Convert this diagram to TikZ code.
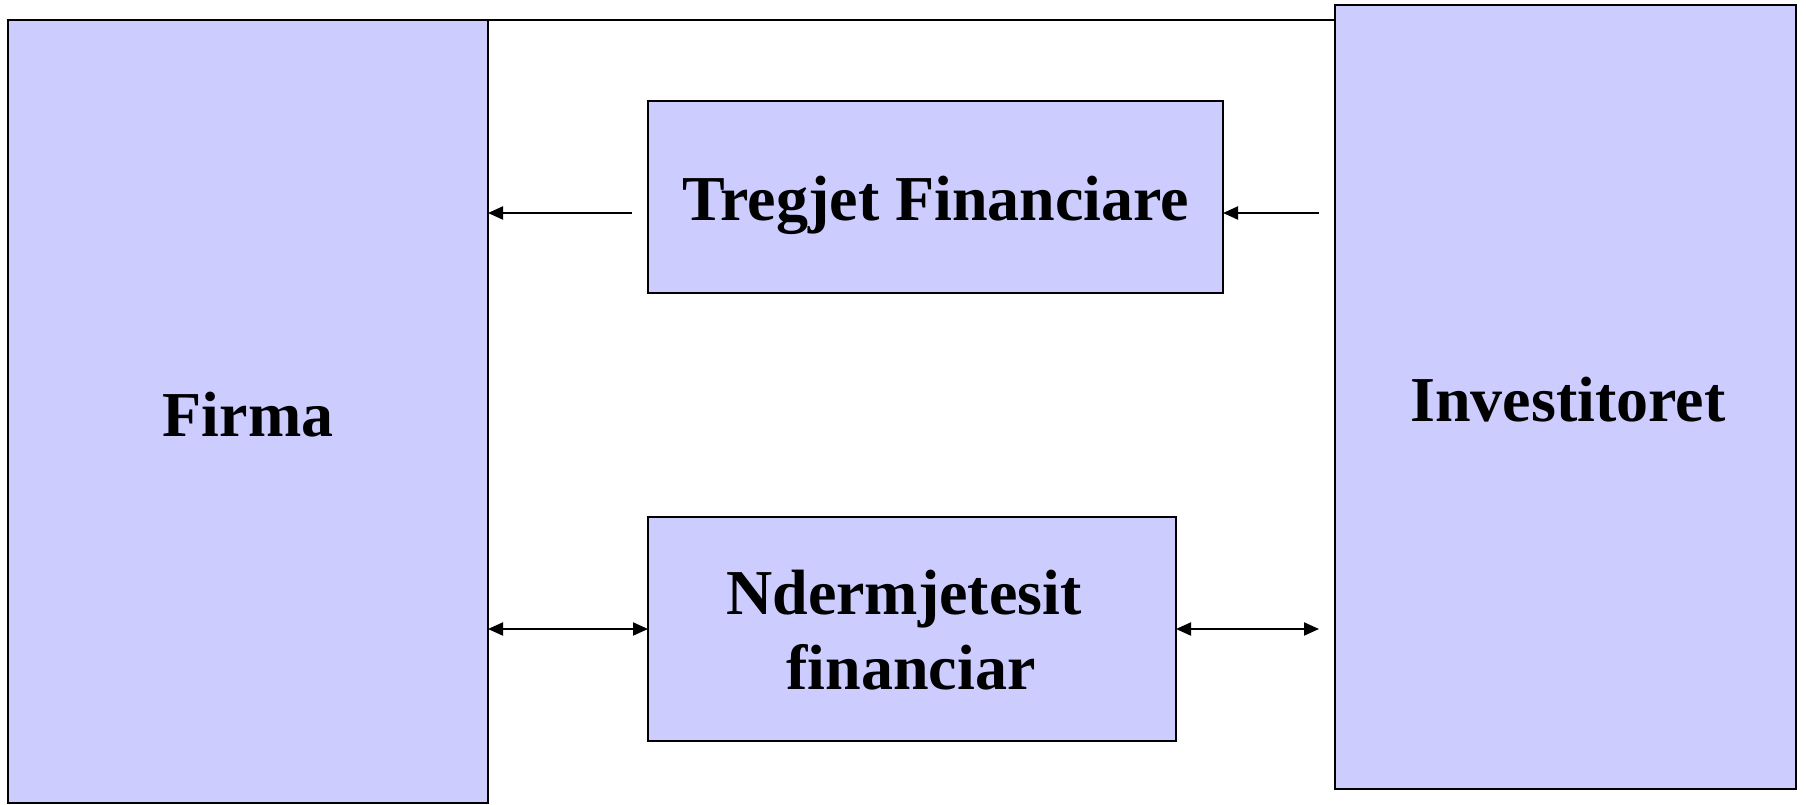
\documentclass[tikz,border=0pt]{standalone}
\usepackage{fontspec}
\setmainfont{Liberation Serif}
\usetikzlibrary{arrows.meta}
\definecolor{boxfill}{HTML}{CCCCFF}
\begin{document}
\begin{tikzpicture}[x=1pt,y=-1pt,
  boxnode/.style={draw=black,fill=boxfill,line width=2pt,rectangle,inner sep=0pt,outer sep=0pt},
  lbl/.style={font=\bfseries\fontsize{64}{76}\selectfont,inner sep=0pt,anchor=base},
  arr/.style={line width=2pt,-{Triangle[length=15pt,width=13pt]}},
  darr/.style={line width=2pt,{Triangle[length=15pt,width=13pt]}-{Triangle[length=15pt,width=13pt]}}]
\useasboundingbox (0,0) rectangle (1806,805);
\coordinate (linestart) at (24,20);
\node[boxnode,minimum width=461pt,minimum height=784pt] (inv) at (1565.5,397) {};
\draw[line width=2pt] (linestart) -- (linestart -| inv.west);
\node[boxnode,minimum width=480pt,minimum height=783pt] (firma) at (248,411.5) {};
\node[boxnode,minimum width=575pt,minimum height=192pt] (treg) at (935.5,197) {};
\node[boxnode,minimum width=528pt,minimum height=224pt] (nder) at (912,629) {};
\node[lbl] (tfirma) at (248,436) {Firma};
\node[lbl] (tinv) at (1568,421) {Investitoret};
\node[lbl] (ttreg) at (936,221) {Tregjet Financiare};
\node[lbl] (tnder1) at (904,614) {Ndermjetesit};
\node[lbl] (tnder2) at (911,689) {financiar};
\coordinate (a1) at (632,213);
\coordinate (a2) at (1319,213);
\coordinate (a3) at (1319,629);
\draw[arr] (a1) -- (a1 -| firma.east);
\draw[arr] (a2) -- (a2 -| treg.east);
\draw[darr] (firma.east |- nder.west) -- (nder.west);
\draw[darr] (nder.east) -- (a3);
\end{tikzpicture}
\end{document}
